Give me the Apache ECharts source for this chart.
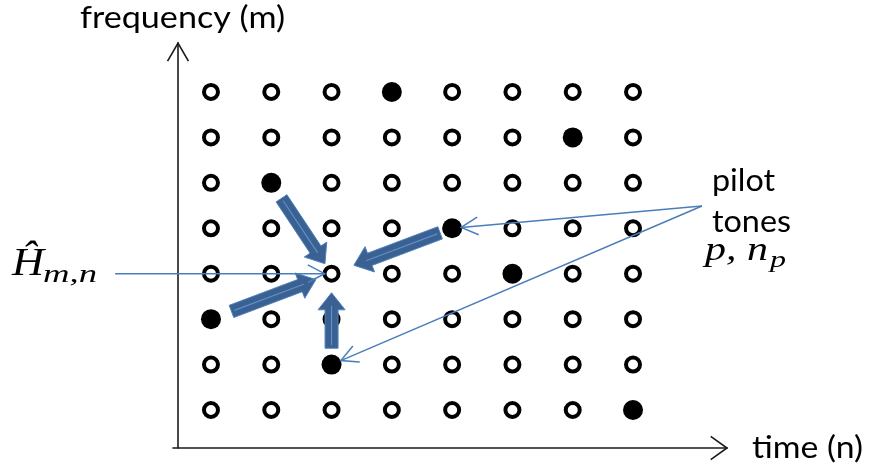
<!DOCTYPE html>
<html>
<head>
<meta charset="utf-8">
<script src="https://cdn.jsdelivr.net/npm/echarts@6/dist/echarts.min.js"></script>
<style>html,body{margin:0;padding:0;background:#fff}#c{width:870px;height:472px}</style>
</head>
<body>
<div id="c"></div>
<script>
// ---- data ----
const timeCols = [1, 2, 3, 4, 5, 6, 7, 8];        // n
const freqRows = [1, 2, 3, 4, 5, 6, 7, 8];        // m
const pilots = [[4, 8], [7, 7], [2, 6], [5, 5], [6, 4], [1, 3], [3, 2], [8, 1]];
const target = [3, 4];
// block arrows: from pilot [col,row] toward target, start / end fractions along the way
const blockArrows = [[2, 6, 0.17, 0.89], [5, 5, 0.10, 0.815], [1, 3, 0.17, 0.87], [3, 2, 0.18, 0.79]];
// estimate label pointer: from [n,m] to target
const estimateLabelAnchor = [-0.59, 4];
const estimateTipFrac = 0.968;
// pilot label pointer hub and pointed pilots [col,row,tipFrac]
const pilotHub = [9.144, 5.49];
const pilotPointers = [[5, 5, 0.964], [3, 2, 0.975]];

const axisTexts = { freq: 'frequency (m)', time: 'time (n)' };
const noteTexts = { pilot: 'pilot', tones: 'tones' };

// ---- derived ----
const isPilot = (c, r) => pilots.some(p => p[0] === c && p[1] === r);
const hollow = [];
freqRows.forEach(r => timeCols.forEach(c => { if (!isPilot(c, r)) hollow.push([c, r]); }));

const X_MIN = 0.37, X_MAX = 9.559, Y_MIN = 0.1636, Y_MAX = 9.078;
const thinBlue = '#4A7EBB';

function fitScale(text, font, w) {
  const ctx = document.createElement('canvas').getContext('2d');
  ctx.font = font;
  return w / ctx.measureText(text).width;
}
function txt(text, x, baseline, fs, family, width, italic) {
  const font = (italic ? 'italic ' : '') + fs + 'px ' + family;
  return {
    type: 'text', x: x, y: baseline - 0.32 * fs, scaleX: fitScale(text, font, width), z: 100,
    style: { text: text, x: 0, y: 0, font: font, fill: '#000', align: 'left', verticalAlign: 'middle' }
  };
}

function lerp(a, b, t) { return [a[0] + (b[0] - a[0]) * t, a[1] + (b[1] - a[1]) * t]; }

function blockRender(params, api) {
  const p0 = api.coord([api.value(0), api.value(1)]);
  const p1 = api.coord([api.value(2), api.value(3)]);
  const s = lerp(p0, p1, api.value(4)), tip = lerp(p0, p1, api.value(5));
  const dx = tip[0] - s[0], dy = tip[1] - s[1], L = Math.hypot(dx, dy);
  const ux = dx / L, uy = dy / L, nx = -uy, ny = ux;
  const sw = 6.5, hw = 13.5, hl = 17;
  const b = [tip[0] - ux * hl, tip[1] - uy * hl];
  const pts = [
    [s[0] + nx * sw, s[1] + ny * sw], [b[0] + nx * sw, b[1] + ny * sw], [b[0] + nx * hw, b[1] + ny * hw],
    tip, [b[0] - nx * hw, b[1] - ny * hw], [b[0] - nx * sw, b[1] - ny * sw], [s[0] - nx * sw, s[1] - ny * sw]
  ];
  return {
    type: 'group', children: [
      { type: 'polygon', shape: { points: pts }, style: { fill: '#3A6191', stroke: '#4F81BD', lineWidth: 1 } },
      { type: 'line', shape: { x1: s[0] + ux * 3, y1: s[1] + uy * 3, x2: b[0] + ux * 4, y2: b[1] + uy * 4 },
        style: { stroke: '#5F8FCC', lineWidth: 1.2 } }
    ]
  };
}

function chevron(tip, ux, uy, len, ang) {
  const c = Math.cos(ang), s = Math.sin(ang);
  const bx = -ux, by = -uy;
  const a1 = [tip[0] + (bx * c - by * s) * len, tip[1] + (bx * s + by * c) * len];
  const a2 = [tip[0] + (bx * c + by * s) * len, tip[1] + (-bx * s + by * c) * len];
  return [a1, tip, a2];
}

function thinRender(params, api) {
  const p0 = api.coord([api.value(0), api.value(1)]);
  const p1 = api.coord([api.value(2), api.value(3)]);
  const tip = lerp(p0, p1, api.value(4));
  const dx = tip[0] - p0[0], dy = tip[1] - p0[1], L = Math.hypot(dx, dy);
  const ux = dx / L, uy = dy / L;
  return {
    type: 'group', children: [
      { type: 'line', shape: { x1: p0[0], y1: p0[1], x2: tip[0], y2: tip[1] }, style: { stroke: thinBlue, lineWidth: 1.5 } },
      { type: 'polyline', shape: { points: chevron(tip, ux, uy, 19, 0.48) }, style: { stroke: thinBlue, lineWidth: 1.5, fill: null } }
    ]
  };
}

function axisArrowRender(params, api) {
  const topTip = api.coord([api.value(0), Y_MAX]);
  const yAxisPt = api.coord([X_MIN, Y_MAX]);
  const rightTip = api.coord([X_MAX, Y_MIN]);
  const ty = [yAxisPt[0] + 5, topTip[1]];
  return {
    type: 'group', children: [
      { type: 'polyline', shape: { points: chevron(ty, 0, -1, 21, 0.52) }, style: { stroke: '#1a1a1a', lineWidth: 1.6, fill: null } },
      { type: 'polyline', shape: { points: chevron(rightTip, 1, 0, 20, 0.62) }, style: { stroke: '#1a1a1a', lineWidth: 1.6, fill: null } }
    ]
  };
}

const thinData = [[estimateLabelAnchor[0], estimateLabelAnchor[1], target[0], target[1], estimateTipFrac]]
  .concat(pilotPointers.map(p => [pilotHub[0], pilotHub[1], p[0], p[1], p[2]]));
const blockData = blockArrows.map(a => [a[0], a[1], target[0], target[1], a[2], a[3]]);

const chart = echarts.init(document.getElementById('c'), null, { renderer: 'canvas' });
chart.setOption({
  backgroundColor: '#fff',
  animation: false,
  grid: { left: 173, right: 143, top: 43, bottom: 24 },
  xAxis: {
    type: 'value', min: X_MIN, max: X_MAX,
    axisLine: { show: true, lineStyle: { color: '#1a1a1a', width: 1.6 } },
    axisTick: { show: false }, axisLabel: { show: false }, splitLine: { show: false }
  },
  yAxis: {
    type: 'value', min: Y_MIN, max: Y_MAX, offset: -5,
    axisLine: { show: true, onZero: false, lineStyle: { color: '#1a1a1a', width: 1.6 } },
    axisTick: { show: false }, axisLabel: { show: false }, splitLine: { show: false }
  },
  series: [
    { type: 'scatter', name: 'data', data: hollow, symbol: 'circle', symbolSize: 14, z: 2,
      itemStyle: { color: '#fff', borderColor: '#000', borderWidth: 4, opacity: 1 } },
    { type: 'scatter', name: 'pilot', data: pilots, symbol: 'circle', symbolSize: 20, z: 2,
      itemStyle: { color: '#000', opacity: 1 } },
    { type: 'custom', name: 'blockArrows', data: blockData, renderItem: blockRender, clip: false, z: 5,
      encode: { x: [0, 2], y: [1, 3] } },
    { type: 'custom', name: 'pointers', data: thinData, renderItem: thinRender, clip: false, z: 6,
      encode: { x: [0, 2], y: [1, 3] } },
    { type: 'custom', name: 'axisArrows', data: [[X_MIN]], renderItem: axisArrowRender, clip: false, z: 6 }
  ],
  graphic: [
    txt(axisTexts.freq, 80, 28, 31, 'Lato', 205),
    txt(axisTexts.time, 752, 458, 30, 'Lato', 111),
    txt(noteTexts.pilot, 712, 191, 31, 'Lato', 63),
    txt(noteTexts.tones, 712, 232, 31, 'Lato', 79),
    txt('p, n', 705, 262, 33, '"Liberation Serif"', 63, true),
    txt('p', 770, 268, 23, '"Liberation Serif"', 16, true),
    txt('Ĥ', 12, 277, 39, '"Liberation Serif"', 32, true),
    txt('m,n', 43, 283, 26, '"Liberation Serif"', 54, true)
  ]
});
</script>
</body>
</html>
